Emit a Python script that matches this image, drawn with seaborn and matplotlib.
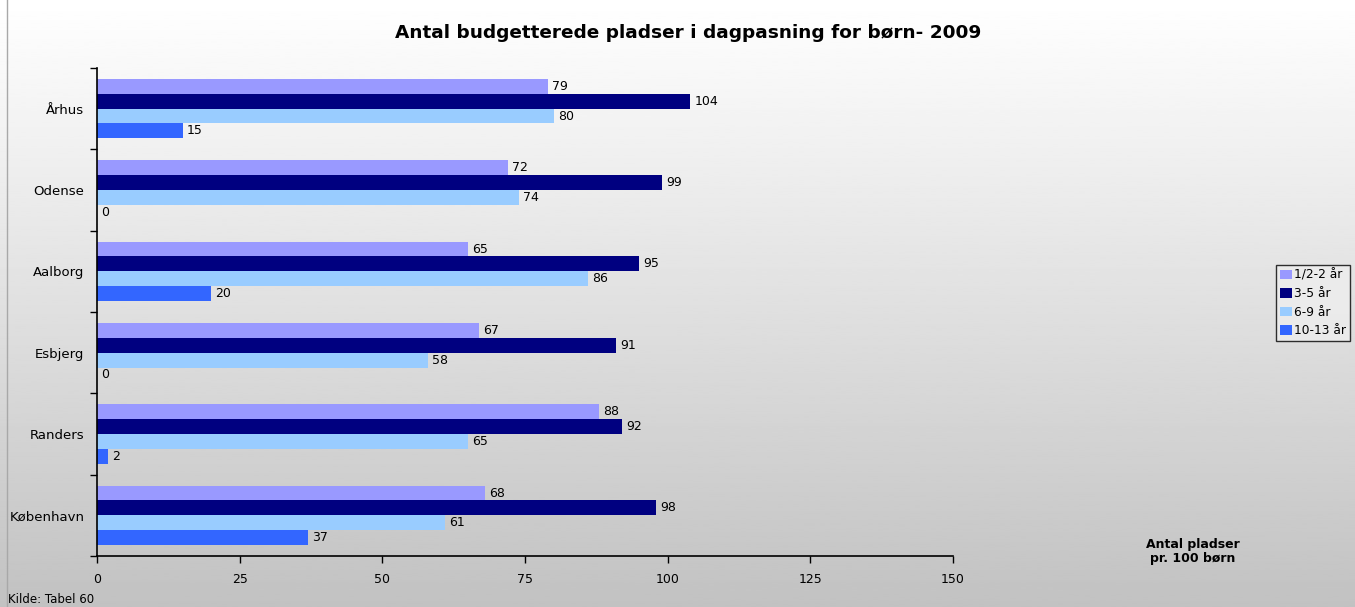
import matplotlib
matplotlib.use("Agg")
import matplotlib.pyplot as plt
import numpy as np
import pandas as pd
import seaborn as sns
from matplotlib.patches import Rectangle

cities = ["Århus", "Odense", "Aalborg", "Esbjerg", "Randers", "København"]
groups = ["1/2-2 år", "3-5 år", "6-9 år", "10-13 år"]
v_0_2 = [79, 72, 65, 67, 88, 68]
v_3_5 = [104, 99, 95, 91, 92, 98]
v_6_9 = [80, 74, 86, 58, 65, 61]
v_10_13 = [15, 0, 20, 0, 2, 37]
colors = ["#9999ff", "#000080", "#99ccff", "#3366ff"]

rows = []
for g, vals in zip(groups, [v_0_2, v_3_5, v_6_9, v_10_13]):
    for c, v in zip(cities, vals):
        rows.append({"by": c, "gruppe": g, "pladser": v})
df = pd.DataFrame(rows)

sns.set_theme(style="white")
plt.rcParams["font.family"] = ["DejaVu Sans"]
plt.rcParams["text.color"] = "black"
plt.rcParams["xtick.color"] = "black"
plt.rcParams["ytick.color"] = "black"

fig = plt.figure(figsize=(13.55, 6.07), dpi=100)

# gradient background
bg = fig.add_axes([0, 0, 1, 1], zorder=-1)
grad = np.linspace(1.0, 0.76, 256).reshape(-1, 1)
bg.imshow(grad, aspect="auto", cmap="gray", vmin=0, vmax=1, extent=[0, 1, 0, 1])
bg.add_patch(Rectangle((0.005, -0.01), 1.0, 1.02, fill=False,
                       edgecolor="#a8a8a8", linewidth=1, transform=bg.transAxes))
bg.set_axis_off()

ax = fig.add_axes([0.0716, 0.084, 0.6317, 0.804])
ax.patch.set_alpha(0)
sns.barplot(data=df, y="by", x="pladser", hue="gruppe", orient="h",
            palette=colors, saturation=1, width=0.73, linewidth=0,
            ax=ax, legend=True)

for cont in ax.containers:
    ax.bar_label(cont, fmt="%d", padding=3, fontsize=9, color="black")

ax.set_xlim(0, 150)
ax.set_ylim(5.5, -0.5)
ax.set_xticks(np.arange(0, 151, 25))
ax.set_xlabel("")
ax.set_ylabel("")
ax.tick_params(axis="x", labelsize=9, length=5, width=1, direction="out",
               bottom=True, color="black", pad=7)
ax.tick_params(axis="y", labelsize=9.5, length=0, pad=9)
ax.set_yticks(np.arange(-0.5, 6, 1), minor=True)
ax.tick_params(axis="y", which="minor", length=5, width=1, left=True,
               direction="out", color="black")
for s in ["top", "right"]:
    ax.spines[s].set_visible(False)
for s in ["left", "bottom"]:
    ax.spines[s].set_color("black")
    ax.spines[s].set_linewidth(1.2)

handles, labels = ax.get_legend_handles_labels()
ax.legend_.remove()
leg = fig.legend(handles, labels, loc="upper left",
                 bbox_to_anchor=(0.9417, 0.5634), fontsize=8.8, frameon=True,
                 fancybox=False, edgecolor="black", facecolor="#eeeeee",
                 handlelength=1.0, handleheight=0.8, handletextpad=0.2,
                 labelspacing=0.45, borderpad=0.3, borderaxespad=0)
leg.get_frame().set_linewidth(1)

fig.suptitle("Antal budgetterede pladser i dagpasning for børn- 2009",
             x=0.508, y=0.96, fontsize=13.3, fontweight="bold")
fig.text(0.8805, 0.092, "Antal pladser\npr. 100 børn", ha="center", va="center",
         fontsize=9, fontweight="bold", linespacing=1.1)
fig.text(0.006, 0.002, "Kilde: Tabel 60", ha="left", va="bottom", fontsize=8.5)

fig.savefig("out.png", dpi=100)
